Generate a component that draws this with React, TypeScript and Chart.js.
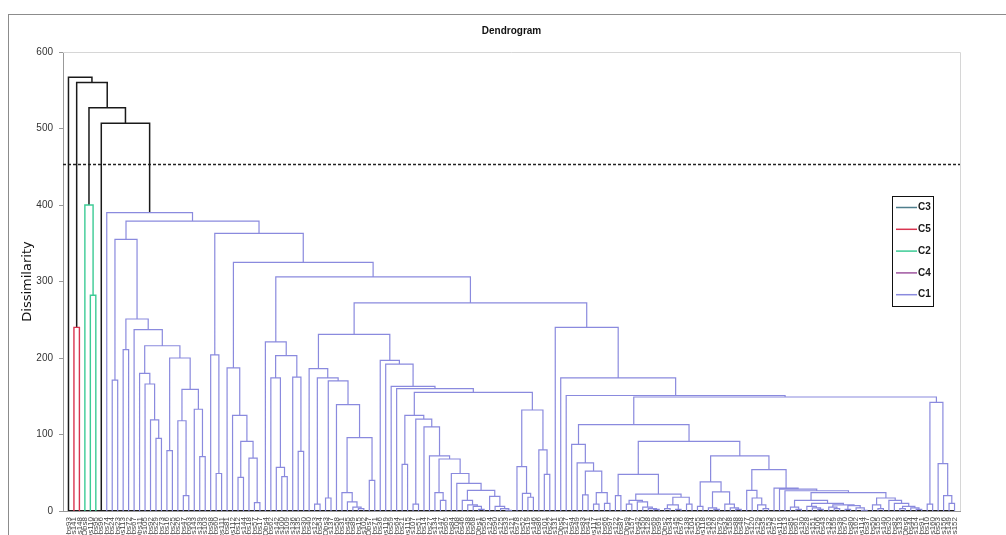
import React, { useEffect, useRef } from "react";
import { Chart, registerables } from "chart.js";

Chart.register(...registerables);

// ---- leaf labels (left to right) ----
const obsNumbers = [
  93, 141, 148, 8, 110, 95, 96, 74, 24, 23,
  113, 72, 67, 11, 105, 92, 29, 73, 16, 25,
  26, 47, 63, 143, 139, 103, 98, 60, 111, 81,
  112, 12, 144, 18, 57, 17, 4, 62, 142, 100,
  109, 136, 135, 30, 40, 123, 54, 3, 137, 58,
  31, 45, 89, 15, 102, 7, 71, 36, 119, 59,
  64, 21, 115, 107, 51, 14, 27, 134, 147, 65,
  84, 108, 46, 38, 68, 1, 56, 124, 90, 125,
  33, 121, 78, 52, 19, 146, 86, 101, 22, 131,
  5, 127, 94, 49, 83, 41, 117, 161, 66, 97,
  122, 87, 9, 157, 42, 150, 128, 69, 99, 2,
  34, 145, 76, 138, 104, 55, 118, 163, 126, 79,
  32, 158, 88, 48, 77, 120, 129, 35, 153, 75,
  116, 13, 85, 61, 130, 28, 151, 106, 43, 132,
  159, 39, 70, 80, 162, 114, 37, 50, 155, 140,
  20, 82, 133, 6, 44, 154, 91, 10, 160, 53,
  156, 149, 152,
];
const leafLabels = obsNumbers.map((n) => `Obs${n}`);

// ---- tree: a node is a leaf index or [height, left, right] ----
type TreeNode = number | [number, TreeNode, TreeNode];

const clusterC5: TreeNode = [240, 1, 2];
const clusterC2: TreeNode = [400, 3, [282, 4, 5]];

const n355: TreeNode = [355, [171, 8, 9],
  [251, [211, 10, 11],
    [237, 12,
      [216,
        [180, 13, [166, 14, [119, 15, [95, 16, 17]]]],
        [200, [79, 18, 19], [159, [118, 20, [20, 21, 22]], [133, 23, [71, 24, 25]]]]]]]];

const n204: TreeNode = [204, 26, [49, 27, 28]];
const n187: TreeNode = [187, 29, [125, 30, [91, [44, 31, 32], [69, 33, [11, 34, 35]]]]];
const n222: TreeNode = [221, 36,
  [203, [174, 37, [57, 38, [45, 39, 40]]], [175, 41, [78, 42, 43]]]];
const n185: TreeNode = [186, 44,
  [174, [9, 45, 46],
    [170, [17, 47, 48],
      [139, 49, [96, [24, 50, [12, 51, [5, 52, [3, 53, 54]]]], [40, 55, 56]]]]]];
const n125: TreeNode = [125, [61, 61, 62],
  [120, [9, 63, 64],
    [110, 65,
      [72, 66,
        [68, [24, 67, [14, 68, 69]],
          [49, 70,
            [36, 71,
              [27, [14, 72, [8, 73, [6, 74, [2, 75, 76]]]],
                [19, 77, [6, 78, [3, 79, [1, 80, 81]]]]]]]]]]]];
const n131: TreeNode = [132, [58, 82, [23, 83, [18, 84, 85]]], [80, 86, [48, 87, 88]]];
const n198: TreeNode = [197, 57, [192, 58, [163, 59, [160, 60, [155, n125, n131]]]]];
const n232: TreeNode = [231, n185, n198];

const n88: TreeNode = [87, 92, [63, 93, [52, [21, 94, 95], [24, [9, 96, 97], [10, 98, 99]]]]];
const n22: TreeNode = [22,
  [14, [9, 102, 103], [12, 104, [5, 105, [3, 106, [2, 107, 108]]]]],
  [18, [8, [3, 109, 110], [2, 111, 112]], [9, 113, 114]]];
const n48: TreeNode = [48, [20, 100, 101], n22];
const n24r: TreeNode = [24,
  [14, [5, 132, [2, 133, 134]],
    [10, [6, 135, [4, 136, [2, 137, 138]]],
      [8, [5, 139, [3, 140, 141]], [7, [2, 142, 143], [4, 144, [1, 145, 146]]]]]],
  [17, [8, 147, [3, 148, 149]],
    [14, 150, [10, 151, [6, [3, 152, 153], [4, 154, [2, 155, 156]]]]]]];
const n53: TreeNode = [54, [27, 124, [17, 125, [8, 126, [3, 127, 128]]]],
  [30, 129, [28.6, 130, [26.5, 131, n24r]]]];
const n72: TreeNode = [72,
  [38, [6, 115, 116], [25, [4, 117, [2, 118, 119]], [9, 120, [4, 121, [2, 122, 123]]]]],
  n53];
const n91: TreeNode = [91, n48, n72];
const n113: TreeNode = [113, n88, n91];
const n142: TreeNode = [142, [9, 157, 158], [62, 159, [20, 160, [10, 161, 162]]]];
const n148: TreeNode = [149, n113, n142];
const n240: TreeNode = [240, 89, [174, 90, [151, 91, n148]]];

const n272: TreeNode = [272, n232, n240];
const n306: TreeNode = [306, n222, n272];
const n325: TreeNode = [325, n187, n306];
const n363: TreeNode = [363, n204, n325];
const n379: TreeNode = [379, n355, n363];
const clusterC1: TreeNode = [390, 7, n379];

const topTree: TreeNode = [567, 0, [560, clusterC5, [527, clusterC2, [507, 6, clusterC1]]]];

const truncationLevel = 453;
const yMax = 600;
const yStep = 100;

const legendNames = ["C3", "C5", "C2", "C4", "C1"];
const legendColors = ["#4f7e8c", "#d93450", "#3ccb95", "#9f55a0", "#8a8ade"];
const linkColor = "#1a1a1a";

type Pt = { x: number; y: number | null };

function buildSegments(): Record<string, Pt[]> {
  const segs: Record<string, Pt[]> = { top: [], C5: [], C2: [], C1: [] };
  const clusterOf = new Map<TreeNode, string>([
    [clusterC5, "C5"],
    [clusterC2, "C2"],
    [clusterC1, "C1"],
  ]);
  const walk = (node: TreeNode, group: string): { x: number; h: number } => {
    if (typeof node === "number") return { x: node, h: 0 };
    const g = clusterOf.get(node) ?? group;
    const [h, l, r] = node;
    const a = walk(l, g);
    const b = walk(r, g);
    segs[g].push(
      { x: a.x, y: a.h },
      { x: a.x, y: h },
      { x: b.x, y: h },
      { x: b.x, y: b.h },
      { x: b.x, y: null }
    );
    return { x: (a.x + b.x) / 2, h };
  };
  walk(topTree, "top");
  return segs;
}

export default function App() {
  const canvasRef = useRef<HTMLCanvasElement | null>(null);

  useEffect(() => {
    if (!canvasRef.current) return;
    const segs = buildSegments();
    const n = leafLabels.length;

    const framePlugin = {
      id: "frameLines",
      beforeDatasetsDraw(chart: any) {
        const { ctx, chartArea } = chart;
        ctx.save();
        ctx.strokeStyle = "#d6d6d6";
        ctx.lineWidth = 1;
        ctx.beginPath();
        ctx.moveTo(chartArea.left, chartArea.top + 0.5);
        ctx.lineTo(chartArea.right + 0.5, chartArea.top + 0.5);
        ctx.lineTo(chartArea.right + 0.5, chartArea.bottom);
        ctx.stroke();
        ctx.restore();
      },
    };

    const legendPlugin = {
      id: "boxLegend",
      afterDraw(chart: any) {
        const { ctx } = chart;
        const left = 892;
        const top = 196;
        const w = 41;
        const rowH = 21.8;
        ctx.save();
        ctx.fillStyle = "#ffffff";
        ctx.fillRect(left, top, w, 110);
        ctx.strokeStyle = "#111";
        ctx.lineWidth = 1;
        ctx.strokeRect(left + 0.5, top + 0.5, w, 110);
        ctx.font = "bold 10px 'Liberation Sans'";
        ctx.textBaseline = "middle";
        legendNames.forEach((name, i) => {
          const y = top + 11.5 + i * rowH;
          ctx.strokeStyle = legendColors[i];
          ctx.lineWidth = 1.5;
          ctx.beginPath();
          ctx.moveTo(left + 4, y);
          ctx.lineTo(left + 25, y);
          ctx.stroke();
          ctx.fillStyle = "#1a1a1a";
          ctx.fillText(name, left + 26, y);
        });
        ctx.restore();
      },
    };

    const chart = new Chart(canvasRef.current, {
      type: "line",
      data: {
        datasets: [
          {
            label: "C1",
            data: segs.C1 as any,
            borderColor: legendColors[4],
            borderWidth: 1.2,
            pointRadius: 0,
            spanGaps: false,
          },
          {
            label: "C2",
            data: segs.C2 as any,
            borderColor: legendColors[2],
            borderWidth: 1.4,
            pointRadius: 0,
            spanGaps: false,
          },
          {
            label: "C5",
            data: segs.C5 as any,
            borderColor: legendColors[1],
            borderWidth: 1.4,
            pointRadius: 0,
            spanGaps: false,
          },
          {
            label: "links",
            data: segs.top as any,
            borderColor: linkColor,
            borderWidth: 1.5,
            pointRadius: 0,
            spanGaps: false,
          },
          {
            label: "baseline",
            data: [
              { x: 0, y: 0 },
              { x: n - 1, y: 0 },
            ] as any,
            borderColor: linkColor,
            borderWidth: 2,
            pointRadius: 0,
          },
          {
            label: "truncation",
            data: [
              { x: -1, y: truncationLevel },
              { x: n, y: truncationLevel },
            ] as any,
            borderColor: "#222",
            borderWidth: 1.5,
            borderDash: [3, 2],
            pointRadius: 0,
          },
        ],
      },
      options: {
        animation: false,
        responsive: false,
        devicePixelRatio: 1,
        events: [],
        layout: { padding: { left: 0, right: 46, top: 0, bottom: 0 } },
        plugins: {
          legend: { display: false },
          tooltip: { enabled: false },
          title: {
            display: true,
            text: "Dendrogram",
            fullSize: false,
            color: "#111",
            font: { family: "Liberation Sans", size: 10, weight: "bold" },
            padding: { top: 25, bottom: 15 },
          },
        },
        scales: {
          x: {
            type: "linear",
            min: -1,
            max: n,
            grid: { display: false, drawTicks: false },
            border: { display: true, color: "#999", width: 1 },
            ticks: {
              stepSize: 1,
              autoSkip: false,
              minRotation: 90,
              maxRotation: 90,
              padding: 6,
              color: "#444",
              font: { family: "Liberation Sans", size: 8 },
              callback: (v: any) => leafLabels[v as number] ?? "",
            },
            afterFit: (s: any) => {
              s.height = 89;
            },
          },
          y: {
            min: 0,
            max: yMax,
            grid: { display: true, drawOnChartArea: false, tickLength: 4, color: "#999" },
            border: { display: true, color: "#999", width: 1 },
            ticks: {
              stepSize: yStep,
              padding: 6,
              color: "#333",
              font: { family: "Liberation Sans", size: 10 },
            },
            title: {
              display: true,
              text: "Dissimilarity",
              color: "#111",
              font: { family: "DejaVu Sans", size: 13 },
              padding: { top: 20, bottom: 0 },
            },
            afterFit: (s: any) => {
              s.width = 63;
            },
          },
        },
      },
      plugins: [framePlugin, legendPlugin],
    } as any);

    return () => chart.destroy();
  }, []);

  return (
    <div
      style={{
        position: "fixed",
        left: 0,
        top: 0,
        width: 1006,
        height: 535,
        overflow: "hidden",
        background: "#fff",
      }}
    >
      <div
        style={{
          position: "absolute",
          left: 8,
          top: 14,
          width: 1200,
          height: 700,
          border: "1px solid #8c8c8c",
        }}
      />
      <canvas
        ref={canvasRef}
        width={1006}
        height={600}
        style={{ position: "absolute", left: 0, top: 0, width: 1006, height: 600 }}
      />
    </div>
  );
}
